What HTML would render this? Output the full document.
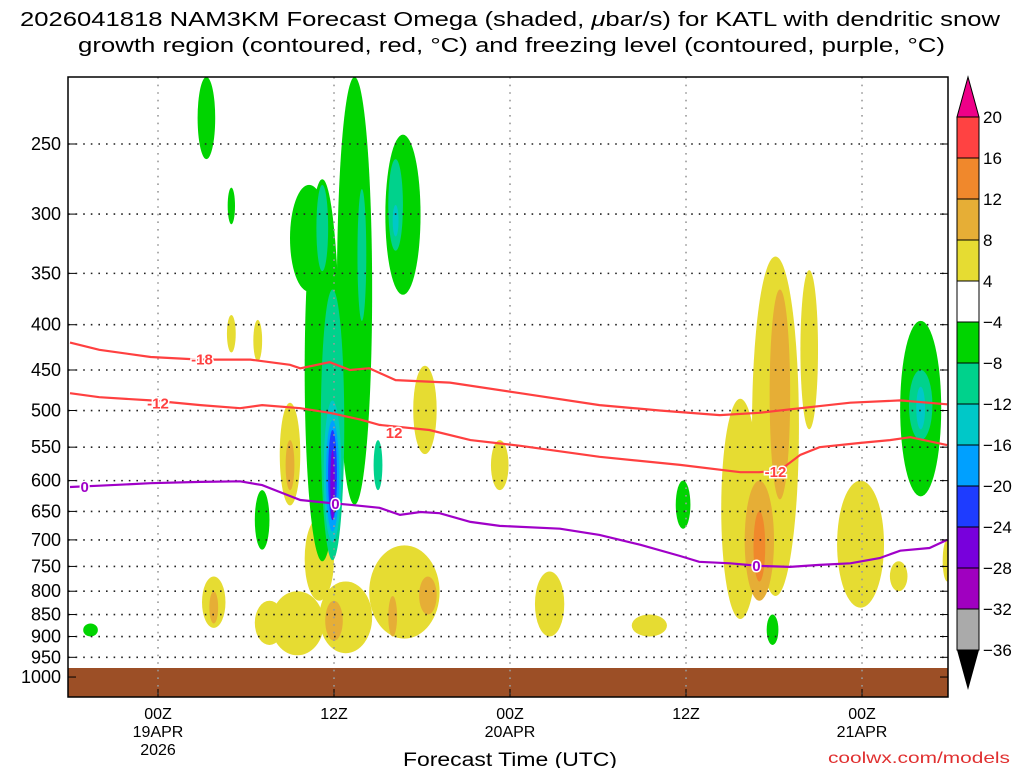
<!DOCTYPE html>
<html><head><meta charset="utf-8"><title>NAM3KM Omega KATL</title>
<style>
html,body{margin:0;padding:0;background:#fff;}
svg{display:block;font-family:"Liberation Sans","DejaVu Sans",sans-serif;}
</style></head>
<body>
<svg id="chart" width="1024" height="768" viewBox="0 0 1024 768" xmlns="http://www.w3.org/2000/svg">
<defs><clipPath id="plotclip"><rect x="68" y="77" width="880" height="620"/></clipPath></defs>
<rect x="0" y="0" width="1024" height="768" fill="#fff"/>
<text x="20" y="26" font-size="20" textLength="980" lengthAdjust="spacingAndGlyphs">2026041818 NAM3KM Forecast Omega (shaded, <tspan font-style="italic">μ</tspan>bar/s) for KATL with dendritic snow</text>
<text x="78" y="52" font-size="20" textLength="867" lengthAdjust="spacingAndGlyphs">growth region (contoured, red, °C) and freezing level (contoured, purple, °C)</text>
<g id="shading" clip-path="url(#plotclip)"></g>
<rect x="68" y="668" width="880" height="29" fill="#9c4f26"/>
<g id="grid"></g>
<g id="contours" clip-path="url(#plotclip)"></g>
<rect x="68" y="77" width="880" height="620" fill="none" stroke="#000" stroke-width="1.5"/>
<g id="yaxis"></g>
<g id="xaxis"></g>
<text x="403" y="766" font-size="19" textLength="214" lengthAdjust="spacingAndGlyphs">Forecast Time (UTC)</text>
<text x="828" y="763" font-size="16" fill="#e03030" textLength="182" lengthAdjust="spacingAndGlyphs">coolwx.com/models</text>
<g id="colorbar"></g>
</svg>
<script>
// ---- data ----
const pressureTicks = [250,300,350,400,450,500,550,600,650,700,750,800,850,900,950,1000];
const timeTickHours = [6,18,30,42,54];
const timeTickLabels = [["00Z","19APR","2026"],["12Z"],["00Z","20APR"],["12Z"],["00Z","21APR"]];
const colorLevels = [20,16,12,8,4,-4,-8,-12,-16,-20,-24,-28,-32,-36];
const colorFills = ["#ff4242","#f0882c","#e6ae36","#e6dc32","#ffffff","#00d400","#00d28c","#00c8c8","#00a0ff","#1e3cff","#7800dc","#a000c0","#aaaaaa"];
const levelColor = {"4":"#e6dc32","8":"#e6ae36","12":"#f0882c","-4":"#00d400","-8":"#00d28c","-12":"#00c8c8","-16":"#00a0ff","-20":"#1e3cff","-24":"#7800dc"};

// omega blobs (hour, half-width hours, top pressure, bottom pressure, level)
const blobHours  = [11.0,12.8,15.0,24.2,29.3,15.5,18.8,22.8,17.0,13.6,9.8,32.7,39.5,48.1,45.7,50.4,53.9,56.5,59.8, 15.0,18.0,22.0,24.4,9.8,48.4,47.0, 47.0, 9.3,11.0,13.1,17.2,19.4,16.3,22.7,41.8,47.9,1.4,58.0, 17.2,19.9,22.2,17.9,21.0,58.0, 22.2,17.9,58.0, 17.9, 17.9, 17.9];
const blobHalfW  = [0.3,0.3,0.7,0.8,0.6,1.8,1.8,2.4,1.0,1.0,0.8,1.0,1.2,1.6,1.3,0.6,1.6,0.6,0.3, 0.3,0.6,0.3,0.6,0.3,0.7,1.0, 0.4, 0.6,0.25,0.5,1.2,1.2,1.3,1.2,0.5,0.4,0.5,1.4, 0.4,0.3,0.5,0.8,0.3,0.8, 0.2,0.6,0.3, 0.45, 0.3, 0.15];
const blobTops   = [390,395,490,445,540,800,780,710,660,820,770,760,850,335,485,347,600,740,700, 540,820,810,770,800,365,600, 650, 210,280,615,274,210,278,244,600,850,870,396, 278,281,260,365,540,450, 293,487,470, 513, 526, 554];
const blobBots   = [430,440,640,560,615,945,940,905,820,920,880,900,900,810,860,525,835,800,780, 615,910,900,850,870,630,820, 780, 260,308,718,740,639,367,370,680,920,900,625, 348,396,330,738,615,540, 318,704,525, 685, 665, 665];
const blobLevels = [4,4,4,4,4,4,4,4,4,4,4,4,4,4,4,4,4,4,4, 8,8,8,8,8,8,8, 12, -4,-4,-4,-4,-4,-4,-4,-4,-4,-4,-4, -8,-8,-8,-8,-8,-8, -12,-12,-12, -16, -20, -24];

// contour lines
const m18Hours = [0,2,5.5,8.9,12.3,15,15.7,17.7,19.1,20.4,22.2,25.9,30.7,36.1,40.2,44.3,47,49.8,53.2,56.6,59.8];
const m18Pres  = [419,427,435,438,438,444,448,441,450,448,462,465,478,493,500,506,503,497,490,487,492];
const m12Hours = [0,2,5.5,8.9,11.6,13.1,15.7,17.7,19.8,21.1,24.5,27.3,30.7,36.1,41.6,45.7,47,48.4,49.8,51.1,53.9,55.9,57.3,59.8];
const m12Pres  = [478,483,487,493,497,493,497,503,512,519,526,540,548,564,576,587,587,584,561,550,544,540,536,547];
const zeroHours = [0,2,5.5,8.9,11.6,13.1,14.3,15.7,17.7,19.1,21.1,22.5,23.9,25.2,27.3,29.3,33.4,36.1,38.9,41.6,42.9,45,47,49.1,51.1,53.2,55.2,56.6,58.6,59.8];
const zeroPres  = [610,608,604,602,601,607,618,631,636,639,644,656,651,653,668,675,680,691,709,730,741,744,749,751,747,744,734,720,715,700];
const contourLabelHours = [9.0,6.0,22.1,48.1,1.0,18.1,46.8];
const contourLabelPres  = [438,491,530,587,610,638,749];
const contourLabelText  = ["-18","-12","12","-12","0","0","0"];
const contourLabelColor = ["#ff4040","#ff4040","#ff4040","#ff4040","#a000c8","#a000c8","#a000c8"];

// ---- axes ----
const X = h => 70 + h * 14.667;
const Y = p => 144 + 384.5 * Math.log(p / 250);
const NS = "http://www.w3.org/2000/svg";
function mk(tag, attrs, parent){ const e=document.createElementNS(NS,tag); for(const k in attrs) e.setAttribute(k,attrs[k]); parent.appendChild(e); return e; }

const shading = document.getElementById('shading');
for (let i=0;i<blobHours.length;i++){
  const y1=Y(blobTops[i]), y2=Y(blobBots[i]);
  const el = mk('ellipse',{cx:X(blobHours[i]),cy:(y1+y2)/2,rx:blobHalfW[i]*14.667,ry:(y2-y1)/2,fill:levelColor[String(blobLevels[i])]},shading);
  
  
}

const grid = document.getElementById('grid');
const yaxis = document.getElementById('yaxis');
pressureTicks.forEach(p=>{
  const y=Y(p);
  if (p<1000){
    const gl = mk('line',{x1:68,x2:948,y1:y,y2:y,stroke:'#222','stroke-width':1.6,'stroke-dasharray':'1.6 6'},grid);
    
    
  }
  mk('line',{x1:68,x2:76,y1:y,y2:y,stroke:'#000','stroke-width':1},yaxis);
  mk('line',{x1:940,x2:948,y1:y,y2:y,stroke:'#000','stroke-width':1},yaxis);
  const t = mk('text',{x:61,y:y+6,'text-anchor':'end','font-size':18},yaxis);
  t.textContent=String(p);
  
  
});

const xaxis = document.getElementById('xaxis');
timeTickHours.forEach((h,i)=>{
  const x=X(h);
  const gl = mk('line',{x1:x,x2:x,y1:77,y2:697,stroke:'#999','stroke-width':1.6,'stroke-dasharray':'1.6 6'},grid);
  
  
  mk('line',{x1:x,x2:x,y1:689,y2:697,stroke:'#000'},xaxis);
  timeTickLabels[i].forEach((s,j)=>{
    const t = mk('text',{x:x,y:719+j*18,'text-anchor':'middle','font-size':16},xaxis);
    t.textContent=s;
    
    
  });
});

// contours
const contours = document.getElementById('contours');
function line(hs,ps,color,name){
  const d = hs.map((h,i)=>(i?'L':'M')+X(h).toFixed(1)+','+Y(ps[i]).toFixed(1)).join(' ');
  const el = mk('path',{d:d,fill:'none',stroke:color,'stroke-width':2.2},contours);
  
  
}
line(m18Hours,m18Pres,'#ff4040','contour-minus18');
line(m12Hours,m12Pres,'#ff4040','contour-minus12');
line(zeroHours,zeroPres,'#a000c8','freezing-level-contour');
contourLabelHours.forEach((h,i)=>{
  const t = mk('text',{x:X(h),y:Y(contourLabelPres[i])+5,'text-anchor':'middle','font-size':15,'font-weight':'bold',fill:contourLabelColor[i],stroke:'#fff','stroke-width':3,'paint-order':'stroke'},contours);
  t.textContent=contourLabelText[i];
  
  
});

// colorbar
const cb = document.getElementById('colorbar');
const cbX=957, cbW=22, cbTop=117, cbStep=41;
mk('path',{d:`M${cbX},${cbTop} L${cbX+cbW/2},77 L${cbX+cbW},${cbTop} Z`,fill:'#ee0088',stroke:'#000','stroke-width':1},cb);
colorFills.forEach((c,i)=>{
  const r = mk('rect',{x:cbX,y:cbTop+i*cbStep,width:cbW,height:cbStep,fill:c,stroke:'#000','stroke-width':1},cb);
  
  
});
const cbBot = cbTop+colorFills.length*cbStep;
mk('path',{d:`M${cbX},${cbBot} L${cbX+cbW/2},${cbBot+40} L${cbX+cbW},${cbBot} Z`,fill:'#000'},cb);
colorLevels.forEach((v,i)=>{
  const t = mk('text',{x:983,y:cbTop+i*cbStep+6,'font-size':17},cb);
  t.textContent = v<0 ? '\u2212'+Math.abs(v) : String(v);
  
  
});
</script>
</body></html>
